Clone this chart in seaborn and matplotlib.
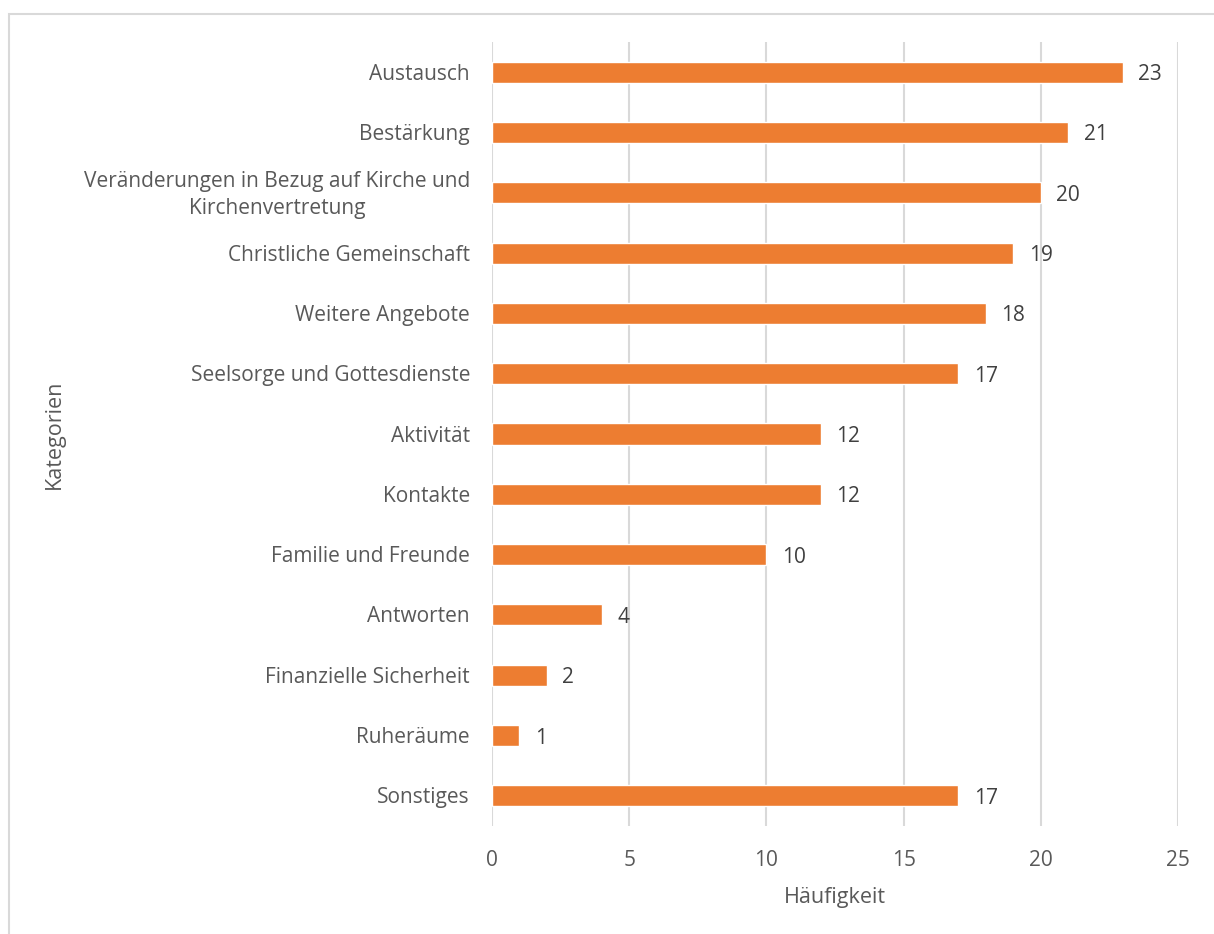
import matplotlib
matplotlib.use("Agg")
import matplotlib.pyplot as plt
import matplotlib.transforms as mtransforms
import seaborn as sns
import pandas as pd
from matplotlib.patches import Rectangle

categories = [
    "Austausch",
    "Bestärkung",
    "Veränderungen in Bezug auf Kirche und\nKirchenvertretung",
    "Christliche Gemeinschaft",
    "Weitere Angebote",
    "Seelsorge und Gottesdienste",
    "Aktivität",
    "Kontakte",
    "Familie und Freunde",
    "Antworten",
    "Finanzielle Sicherheit",
    "Ruheräume",
    "Sonstiges",
]
counts = [23, 21, 20, 19, 18, 17, 12, 12, 10, 4, 2, 1, 17]
x_ticks = [0, 5, 10, 15, 20, 25]

df = pd.DataFrame({"Kategorie": categories, "Häufigkeit": counts})

sns.set_theme(style="white")
plt.rcParams["font.family"] = ["Open Sans", "DejaVu Sans"]

W, H = 1214, 934
fig = plt.figure(figsize=(W / 100, H / 100), dpi=100)
fig.patch.set_facecolor("white")

# chart frame
fig.patches.append(Rectangle((8.5 / W, -0.01), 1.02, 1 - 13.5 / H + 0.01,
                             transform=fig.transFigure, fill=False,
                             edgecolor="#d9d9d9", linewidth=1.5))

left, right = 492 / W, 1178 / W
bottom, top = 1 - 826 / H, 1 - 42 / H
ax = fig.add_axes([left, bottom, right - left, top - bottom])

sns.barplot(data=df, y="Kategorie", x="Häufigkeit", orient="h",
            color="#ed7d31", saturation=1, width=0.35, ax=ax, zorder=3)

ax.set_xlim(0, 25)
ax.set_ylim(len(categories) - 0.5, -0.5)
ax.set_xticks(x_ticks)
ax.set_xticklabels([str(t) for t in x_ticks])
ax.grid(axis="x", color="#d9d9d9", linewidth=1.5, zorder=0)
ax.grid(axis="y", visible=False)
for s in ax.spines.values():
    s.set_visible(False)

label_color = "#595959"
ax.tick_params(axis="both", length=0, labelsize=15, labelcolor=label_color)
ax.tick_params(axis="x", pad=17)

# category names drawn right-aligned next to the axis, multi-line centred
ax.set_yticks(range(len(categories)))
ax.set_yticklabels([])
ytrans = mtransforms.offset_copy(ax.get_yaxis_transform(), fig=fig,
                                 x=0, y=-2, units="dots")
for i, name in enumerate(categories):
    ax.text(-0.032, i, name, transform=ytrans, ha="right", va="center",
            multialignment="center", linespacing=1.35, fontsize=15,
            color=label_color)

ax.set_xlabel("Häufigkeit", fontsize=15.5, color=label_color, labelpad=12)
ax.set_ylabel("Kategorien", fontsize=15.5, color=label_color)
ax.yaxis.set_label_coords(-0.622, 0.5, transform=ax.transAxes)

for cont in ax.containers:
    texts = ax.bar_label(cont, labels=[str(v) for v in counts], padding=11,
                         fontsize=15, color="#404040")
    for t in texts:
        t.set_verticalalignment("center_baseline")

fig.savefig("out.png", dpi=100, facecolor="white")
